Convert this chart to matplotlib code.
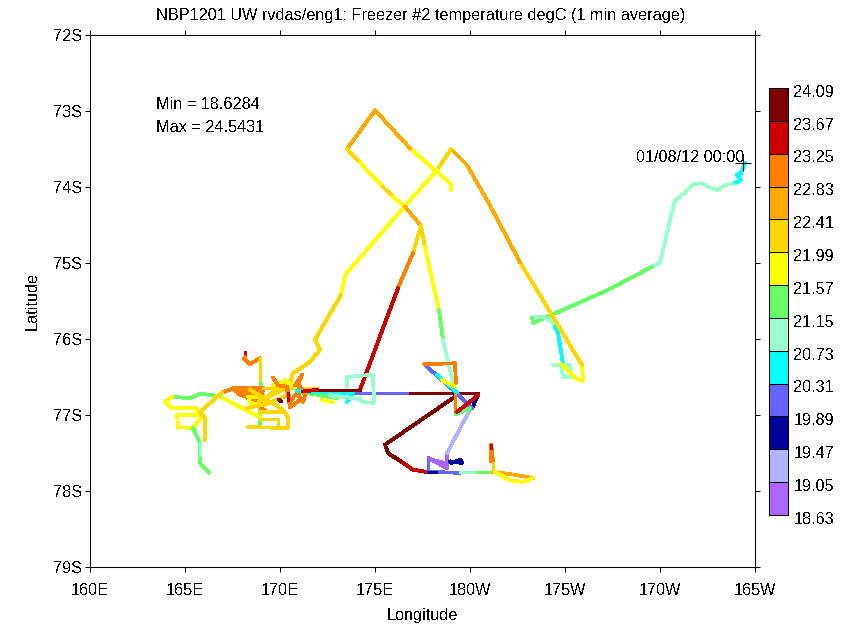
import matplotlib
matplotlib.use("Agg")
import matplotlib.pyplot as plt
from matplotlib.colors import ListedColormap, BoundaryNorm
from matplotlib.cm import ScalarMappable
from matplotlib.transforms import ScaledTranslation

plt.rcParams["font.family"] = ["Liberation Sans", "DejaVu Sans"]
plt.rcParams["text.antialiased"] = False

# Colour bar levels and colours (degC)
levels = [18.63, 19.05, 19.47, 19.89, 20.31, 20.73, 21.15, 21.57, 21.99, 22.41, 22.83, 23.25, 23.67, 24.09]
level_colors = ["#AA66FF", "#B3B3FF", "#000099", "#6666FF", "#00FFFF", "#99FFCC", "#66FF66",
                "#FFFF00", "#FFD700", "#FFAA00", "#FF8000", "#CC0000", "#7F0000"]

lon_ticks = [160, 165, 170, 175, 180, 185, 190, 195]
lon_labels = ["160E", "165E", "170E", "175E", "180W", "175W", "170W", "165W"]
lat_ticks = [-72, -73, -74, -75, -76, -77, -78, -79]
lat_labels = ["72S", "73S", "74S", "75S", "76S", "77S", "78S", "79S"]

# Ship track pieces, longitude runs past 180 going east
track_temp = [
    20.5, 20.9, 21.4, 20.9, 20.5, 20.9, 21.8, 22.2, 22.6,
    22.2, 21.8, 22.2,
    21.8, 22.6, 22.2, 21.8, 22.2, 21.8, 22.6,
    22.2, 23.0, 23.4, 22.2, 21.8, 21.4, 20.9,
    20.1, 23.9,
    23.9, 23.4, 20.1, 20.1, 20.9, 21.4, 22.2, 23.0, 23.0, 23.4, 22.6, 21.8,
    18.8, 19.3, 19.7, 19.7, 19.7, 20.1, 23.0, 23.0, 21.4, 23.4, 20.5, 21.8,
    20.9, 20.5, 21.4, 21.8, 20.9,
    21.4, 23.0, 23.0, 22.2, 23.4, 21.8, 21.4, 21.8, 21.4, 20.9,
    23.0, 22.2, 22.2, 22.2, 22.2, 21.8, 22.2, 22.2, 21.8, 23.0, 23.0, 23.4, 23.9,
    20.5, 23.9, 23.4,
]
track_lon = [
    [194.47, 194.26, 194.05, 194.26, 193.84],
    [193.84, 193.53, 193.0, 192.63, 192.21, 191.74, 191.42, 190.79, 190.53, 190.0, 189.58],
    [189.58, 187.21, 184.32, 183.32, 183.26, 183.42],
    [183.42, 183.84, 184.21, 184.47],
    [184.47, 184.63, 184.89],
    [184.37, 185.26, 185.37, 184.89, 184.79],
    [184.79, 185.63, 185.95, 185.89],
    [185.89, 183.53, 182.63],
    [182.63, 181.05, 179.84, 179.0],
    [179.0, 178.26],
    [178.26, 176.53, 173.42, 173.21],
    [173.21, 171.84, 172.11, 171.58, 170.68, 170.53],
    [179.0, 179.0, 176.84],
    [176.84, 175.0, 173.53],
    [173.53, 174.21],
    [174.21, 175.42],
    [175.42, 175.95],
    [175.95, 176.58],
    [176.58, 177.42],
    [177.42, 177.0],
    [177.0, 176.21],
    [176.21, 174.21],
    [177.42, 177.63],
    [177.63, 178.37],
    [178.37, 178.58],
    [178.58, 179.11],
    [173.84, 176.84],
    [176.84, 180.42],
    [179.32, 175.53, 175.68, 176.47],
    [176.47, 177.0, 177.74],
    [177.79, 177.79],
    [177.79, 179.47],
    [179.47, 180.37],
    [180.37, 181.21],
    [181.21, 181.21],
    [181.21, 181.11],
    [181.05, 181.05],
    [181.11, 181.11],
    [181.21, 182.47, 183.32],
    [183.32, 182.79, 182.11, 181.32],
    [178.79, 178.79, 177.89, 178.79, 177.89],
    [178.79, 180.0],
    [179.84, 180.11, 180.42],
    [178.95, 179.58, 179.5, 179.0],
    [177.79, 178.2],
    [177.58, 179.11, 180.11],
    [177.58, 179.21, 179.26],
    [179.21, 179.21],
    [179.26, 180.0],
    [179.32, 180.42],
    [178.26, 179.32],
    [178.53, 179.21],
    [173.53, 173.53, 174.89, 174.95, 174.32, 174.21],
    [170.89, 173.84, 173.53],
    [171.42, 173.0],
    [172.21, 172.79],
    [172.63, 174.21],
    [169.0, 168.95],
    [167.0, 167.63, 169.11, 167.63, 169.11, 167.79, 169.11],
    [167.79, 169.0, 169.0, 168.32, 169.26],
    [169.11, 171.95],
    [168.16, 168.16],
    [166.84, 168.95],
    [166.84, 165.79, 165.26, 164.32],
    [164.32, 163.95, 164.32, 165.63, 165.63, 164.58, 164.63, 165.42, 165.95],
    [165.42, 165.79, 165.79, 166.26],
    [165.79, 165.79],
    [168.16, 168.11, 168.42, 168.95],
    [168.95, 168.95],
    [166.05, 166.05, 165.79, 166.95],
    [168.95, 170.26, 170.42, 170.42, 168.32],
    [168.95, 169.89, 169.89],
    [168.32, 169.21, 169.21, 168.42, 168.32],
    [168.26, 169.26, 170.37, 170.26, 169.21, 168.4, 170.1],
    [168.9, 170.21],
    [169.63, 170.26, 171.16],
    [169.63, 169.89, 170.37, 170.53, 170.89, 171.21, 171.32, 170.95, 171.16, 170.79],
    [171.16, 170.95, 171.05, 170.53, 170.37],
    [170.42, 170.42],
    [169.95, 170.05],
    [170.89, 171.95],
    [174.21, 171.95],
    [171.95, 171.21],
]
track_lat = [
    [-73.68, -73.82, -73.84, -73.91, -73.96],
    [-73.96, -73.97, -74.04, -74.01, -73.95, -73.96, -74.05, -74.18, -74.43, -75.0, -75.05],
    [-75.05, -75.36, -75.68, -75.79, -75.72, -75.71],
    [-75.71, -75.71, -75.75, -75.84],
    [-75.84, -75.91, -76.32],
    [-76.34, -76.34, -76.5, -76.5, -76.33],
    [-76.33, -76.53, -76.55, -76.34],
    [-76.34, -75.36, -74.99],
    [-74.99, -74.24, -73.71, -73.5],
    [-73.5, -73.78],
    [-73.78, -74.26, -75.16, -75.42],
    [-75.42, -76.01, -76.14, -76.3, -76.45, -76.58],
    [-74.04, -73.96, -73.49],
    [-73.49, -72.99, -73.5],
    [-73.5, -73.68],
    [-73.68, -74.0],
    [-74.0, -74.13],
    [-74.13, -74.26],
    [-74.26, -74.51],
    [-74.51, -74.87],
    [-74.87, -75.33],
    [-75.33, -76.67],
    [-74.51, -74.79],
    [-74.79, -75.62],
    [-75.62, -76.01],
    [-76.01, -76.58],
    [-76.71, -76.71],
    [-76.71, -76.71],
    [-76.74, -77.39, -77.5, -77.63],
    [-77.63, -77.72, -77.75],
    [-77.75, -77.55],
    [-77.75, -77.76],
    [-77.75, -77.75],
    [-77.75, -77.75],
    [-77.75, -77.6],
    [-77.6, -77.39],
    [-77.6, -77.42],
    [-77.39, -77.44],
    [-77.75, -77.79, -77.83],
    [-77.83, -77.88, -77.86, -77.75],
    [-77.53, -77.7, -77.58, -77.64, -77.58],
    [-77.5, -76.93],
    [-76.84, -76.91, -76.74],
    [-77.61, -77.63, -77.59, -77.63],
    [-77.75, -77.75],
    [-76.33, -76.67, -76.91],
    [-76.33, -76.32, -76.58],
    [-76.74, -76.97],
    [-76.99, -76.91],
    [-76.96, -76.74],
    [-76.47, -76.7],
    [-76.54, -76.63],
    [-76.63, -76.5, -76.47, -76.84, -76.83, -76.78],
    [-76.7, -76.71, -76.83],
    [-76.71, -76.78],
    [-76.8, -76.83],
    [-76.74, -76.79],
    [-76.58, -77.13],
    [-76.7, -76.64, -76.64, -76.68, -76.68, -76.72, -76.74],
    [-76.72, -76.84, -76.78, -76.78, -76.95],
    [-76.64, -76.64],
    [-76.17, -76.24],
    [-76.76, -77.03],
    [-76.75, -76.72, -76.78, -76.76],
    [-76.76, -76.83, -76.91, -76.91, -77.0, -77.0, -77.16, -77.17, -77.0],
    [-77.17, -77.36, -77.63, -77.76],
    [-77.37, -77.53],
    [-76.24, -76.26, -76.33, -76.25],
    [-76.25, -76.54],
    [-77.33, -77.04, -76.96, -76.7],
    [-76.96, -76.96, -77.04, -77.17, -77.16],
    [-77.05, -77.05, -77.16],
    [-76.76, -76.76, -76.87, -76.84, -76.76],
    [-76.91, -76.86, -76.74, -76.54, -76.8, -76.66, -76.92],
    [-76.82, -76.66],
    [-76.61, -76.55, -76.67],
    [-76.51, -76.61, -76.63, -76.83, -76.71, -76.83, -76.74, -76.58, -76.47, -76.61],
    [-76.47, -76.58, -76.8, -76.9, -76.66],
    [-76.71, -76.8],
    [-76.8, -76.82],
    [-76.68, -76.7],
    [-76.67, -76.67],
    [-76.67, -76.69],
]

cmap = ListedColormap(level_colors)
norm = BoundaryNorm(levels, cmap.N)

fig = plt.figure(figsize=(8.65, 6.24), dpi=100)
ax = fig.add_axes([90 / 865, 57 / 624, 665 / 865, 532 / 624])

for temp, lon, lat in zip(track_temp, track_lon, track_lat):
    ax.plot(lon, lat, color=cmap(norm(temp)), linewidth=2.0, antialiased=False,
            solid_capstyle="round", solid_joinstyle="round")

ax.set_xlim(160, 195)
ax.set_ylim(-79, -72)
ax.set_xticks(lon_ticks)
ax.set_xticklabels(lon_labels)
ax.set_yticks(lat_ticks)
ax.set_yticklabels(lat_labels)
ax.tick_params(direction="out", length=3.5, width=0.75, labelsize=11.7, top=True, right=True)
ax.tick_params(axis="x", pad=8)
ax.tick_params(axis="y", pad=2)
for spine in ax.spines.values():
    spine.set_linewidth(0.75)
ax.set_xlabel("Longitude", fontsize=11.7, labelpad=7)
ax.set_ylabel("Latitude", fontsize=11.7, labelpad=9.5)
ax.set_title("NBP1201 UW rvdas/eng1: Freezer #2 temperature degC (1 min average)",
             fontsize=11.7, pad=11, x=0.497)

ax.text(163.47, -72.91, "Min = 18.6284", fontsize=11.7, va="center")
ax.text(163.47, -73.22, "Max = 24.5431", fontsize=11.7, va="center")

# Start of the track
ax.plot([194.39], [-73.68], marker="+", color="k", markersize=12, markeredgewidth=0.75,
        antialiased=False)
ax.text(194.42, -73.61, "01/08/12 00:00", fontsize=11.7, ha="right", va="center")

cax = fig.add_axes([769 / 865, (624 - 515) / 624, 19 / 865, 427 / 624])
cbar = fig.colorbar(ScalarMappable(norm=norm, cmap=cmap), cax=cax, ticks=levels,
                    spacing="uniform", drawedges=True)
cbar.ax.set_yticklabels(["%.2f" % v for v in levels])
cbar.ax.tick_params(length=0, labelsize=11.7, pad=4)
cbar.dividers.set_linewidth(0.75)
cbar.outline.set_linewidth(0.75)
# labels sit a little below their level line
label_shift = ScaledTranslation(0, -2 / 72, fig.dpi_scale_trans)
for label in cbar.ax.get_yticklabels():
    label.set_transform(label.get_transform() + label_shift)

fig.savefig("out.png", dpi=100)
